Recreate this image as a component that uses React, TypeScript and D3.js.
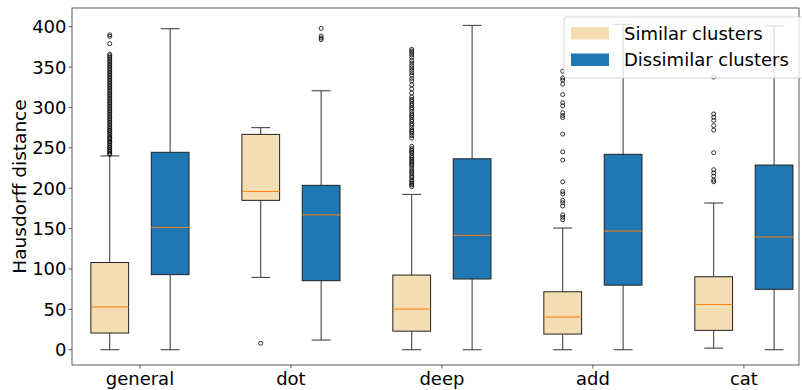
import React from "react";
import * as d3 from "d3";

const categories = ["general", "dot", "deep", "add", "cat"];
const seriesNames = ["Similar clusters", "Dissimilar clusters"];
const yTicks = [0, 50, 100, 150, 200, 250, 300, 350, 400];

// [lower whisker, q1, median, q3, upper whisker]
const similarBoxes = [
  [0, 20.7, 53, 108, 240],
  [89.6, 185, 196, 266.7, 275],
  [0, 23, 50.4, 92.5, 192.4],
  [0, 19.4, 40.5, 71.8, 150.7],
  [2, 24, 56, 90.4, 181.7],
];
const dissimilarBoxes = [
  [0, 93, 151.5, 244.5, 397.5],
  [12, 85.5, 167, 203.6, 320.7],
  [0, 87.6, 141.7, 236.5, 401.7],
  [0, 80, 147, 242, 403],
  [0, 74.8, 139.6, 228.7, 401],
];

const similarOutliers = [
  [242, 243, 245, 246, 248, 250, 251, 253, 255, 257, 258, 260, 262, 263, 265, 267, 269, 271, 272, 274,
    276, 278, 280, 282, 284, 286, 288, 290, 292, 294, 296, 298, 300, 302, 304, 306, 308, 310, 312, 314,
    316, 318, 320, 322, 324, 326, 328, 330, 332, 334, 336, 338, 340, 342, 344, 346, 348, 350, 352, 354,
    356, 358, 360, 362, 364, 366, 379, 388, 390],
  [8],
  [202, 204, 206, 208, 210, 213, 215, 218, 220, 222, 225, 228, 230, 232, 234, 236, 238, 240, 243, 245,
    247, 249, 252, 262, 265, 268, 270, 272, 275, 278, 280, 283, 285, 288, 290, 292, 295, 298, 300, 303,
    305, 308, 310, 313, 318, 323, 328, 333, 336, 340, 343, 346, 349, 352, 355, 358, 362, 365, 368, 370, 372],
  [161, 164, 167, 178, 182, 185, 193, 196, 208, 235, 245, 267, 287.5, 290, 293.5, 302, 306, 316, 329, 334,
    336.5, 345],
  [208, 210, 215, 219, 223, 244, 272, 277.6, 284, 288, 292, 337.7],
];
const dissimilarOutliers = [[], [384, 386, 388.5, 398], [], [], []];

const colors = ["#f5deb3", "#1f77b4"];
const font = "DejaVu Sans, sans-serif";

export default function App() {
  const W = 802;
  const H = 390;
  const left = 72;
  const right = 799;
  const top = 8;
  const bottom = 365;

  const x = d3.scaleLinear().domain([-0.45, 4.365]).range([left, right]);
  const y = d3.scaleLinear().domain([-18.9, 423.2]).range([bottom, top]);

  const offset = 0.2;
  const boxW = x(0.25) - x(0);
  const capW = boxW / 2;

  const series = [
    { boxes: similarBoxes, outliers: similarOutliers, fill: colors[0], off: -offset },
    { boxes: dissimilarBoxes, outliers: dissimilarOutliers, fill: colors[1], off: offset },
  ];

  return (
    <svg width={W} height={H} style={{ position: "absolute", left: 0, top: 0, background: "#fff" }} fontFamily={font}>
      {/* y ticks */}
      {yTicks.map((t) => (
        <g key={t}>
          <line x1={left - 3.5} x2={left} y1={y(t)} y2={y(t)} stroke="#333" strokeWidth={0.8} />
          <text x={left - 5.5} y={y(t)} dy="0.36em" textAnchor="end" fontSize={18} fill="#000">
            {t}
          </text>
        </g>
      ))}
      {/* x ticks */}
      {categories.map((c, i) => (
        <g key={c}>
          <line x1={x(i)} x2={x(i)} y1={bottom} y2={bottom + 3.5} stroke="#333" strokeWidth={0.8} />
          <text x={x(i)} y={bottom + 20} textAnchor="middle" fontSize={18} fill="#000">
            {c}
          </text>
        </g>
      ))}
      <text
        transform={`translate(20,${(top + bottom) / 2}) rotate(-90)`}
        textAnchor="middle"
        dy="0.35em"
        fontSize={18.5}
        fill="#000"
      >
        Hausdorff distance
      </text>

      {series.map((s, si) =>
        s.boxes.map((b, i) => {
          const cx = x(i + s.off);
          const [lo, q1, med, q3, hi] = b;
          return (
            <g key={`${si}-${i}`}>
              <line x1={cx} x2={cx} y1={y(lo)} y2={y(q1)} stroke="#333" strokeWidth={1} />
              <line x1={cx} x2={cx} y1={y(q3)} y2={y(hi)} stroke="#333" strokeWidth={1} />
              <line x1={cx - capW / 2} x2={cx + capW / 2} y1={y(lo)} y2={y(lo)} stroke="#333" strokeWidth={1} />
              <line x1={cx - capW / 2} x2={cx + capW / 2} y1={y(hi)} y2={y(hi)} stroke="#333" strokeWidth={1} />
              <rect
                x={cx - boxW / 2}
                y={y(q3)}
                width={boxW}
                height={y(q1) - y(q3)}
                fill={s.fill}
                stroke="#222"
                strokeWidth={1}
              />
              <line x1={cx - boxW / 2} x2={cx + boxW / 2} y1={y(med)} y2={y(med)} stroke="#ff7f0e" strokeWidth={1} />
              {s.outliers[i].map((o, k) => (
                <circle key={k} cx={cx} cy={y(o)} r={2} fill="none" stroke="#000" strokeWidth={0.8} />
              ))}
            </g>
          );
        })
      )}

      {/* axes frame */}
      <rect x={left} y={top} width={right - left} height={bottom - top} fill="none" stroke="#333" strokeWidth={0.8} />

      {/* legend */}
      <g>
        <rect x={564} y={17} width={245} height={61} rx={3} fill="#fff" fillOpacity={0.8} stroke="#ccc" strokeWidth={0.8} />
        {seriesNames.map((n, i) => (
          <g key={n}>
            <rect x={571} y={27 + i * 26.5} width={38} height={12.5} fill={colors[i]} />
            <text x={624} y={33.5 + i * 26.5} dy="0.36em" fontSize={18} fill="#000">
              {n}
            </text>
          </g>
        ))}
      </g>
    </svg>
  );
}
